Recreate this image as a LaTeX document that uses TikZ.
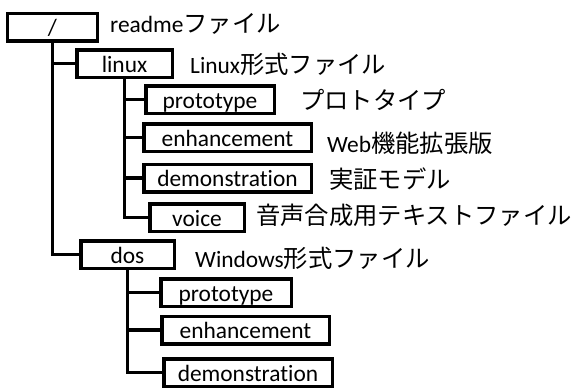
\documentclass[tikz,border=0pt]{standalone}
\usepackage{fontspec}
\setmainfont{Carlito}[Ligatures=NoCommon]
\newfontfamily\jp{Noto Sans CJK JP}[Scale=1.04]
\newcommand{\jtext}[1]{{\jp #1}}
\begin{document}
\begin{tikzpicture}[x=1bp, y=-1bp,
  font=\fontsize{23.4bp}{28bp}\selectfont,
  dirbox/.style={draw, line width=3.5bp, inner sep=0pt, minimum height=27.5bp,
    text height=18.3bp, text depth=1.2bp},
  note/.style={anchor=base west, inner sep=0pt},
  conn/.style={line width=3.5bp, line join=miter}]
\useasboundingbox (0,0) rectangle (571,388);

% directory boxes
\node[dirbox, minimum width=89.5bp]  (root)   at (52.5,27)   {/};
\node[dirbox, minimum width=95.5bp]  (linux)  at (124.5,63.5) {linux};
\node[dirbox, minimum width=128.5bp] (lproto) at (210,99.5)  {prototype};
\node[dirbox, minimum width=167.5bp] (lenh)   at (227.5,137.5) {enhancement};
\node[dirbox, minimum width=167.5bp] (ldemo)  at (227.5,178) {demonstration};
\node[dirbox, minimum width=94.5bp]  (voice)  at (197,217.5) {voice};
\node[dirbox, minimum width=93.5bp]  (dos)    at (127.5,254.5) {dos};
\node[dirbox, minimum width=130.5bp] (dproto) at (226,292.5) {prototype};
\node[dirbox, minimum width=167.5bp] (denh)   at (245.5,330) {enhancement};
\node[dirbox, minimum width=168.5bp] (ddemo)  at (248,372.5) {demonstration};

% tree connectors
\draw[conn] (root.south) |- (linux.west);
\draw[conn] (root.south) |- (dos.west);
\draw[conn] (linux.south) |- (lproto.west);
\draw[conn] (linux.south) |- (lenh.west);
\draw[conn] (linux.south) |- (ldemo.west);
\draw[conn] (linux.south) |- (voice.west);
\draw[conn] (dos.south) |- (dproto.west);
\draw[conn] (dos.south) |- (denh.west);
\draw[conn] (dos.south) |- (ddemo.west);

% descriptions
\node[note] (troot)   at (110,32)  {readme\jtext{ファイル}};
\node[note] (tlinux)  at (190,73)  {Linux\jtext{形式ファイル}};
\node[note] (tlproto) at (300,109) {\jtext{プロトタイプ}};
\node[note] (tlenh)   at (327,152) {Web\jtext{機能拡張版}};
\node[note] (tldemo)  at (329,188) {\jtext{実証モデル}};
\node[note] (tvoice)  at (256,224) {\jtext{音声合成用テキストファイル}};
\node[note] (tdos)    at (195,267) {Windows\jtext{形式ファイル}};
\end{tikzpicture}
\end{document}
